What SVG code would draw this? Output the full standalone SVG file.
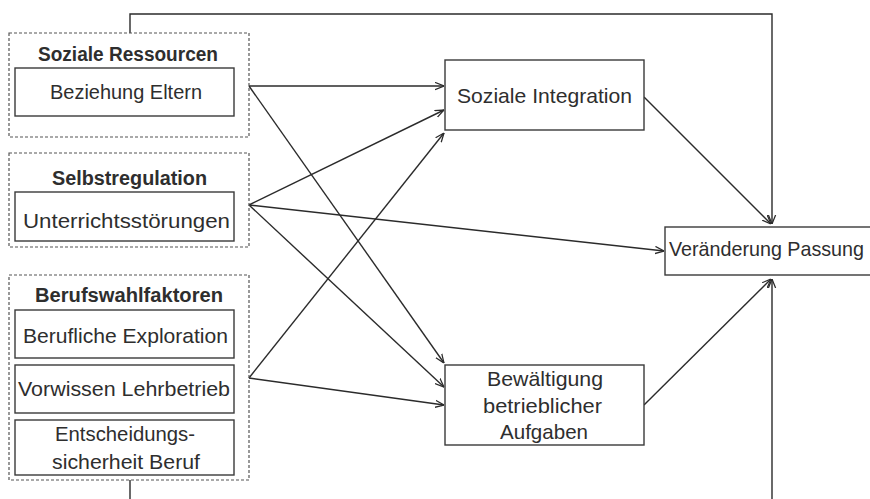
<svg xmlns="http://www.w3.org/2000/svg" width="870" height="499" viewBox="0 0 870 499">
<style>
.t{font-family:"Liberation Sans",Arial,sans-serif;font-size:21px;fill:#2e2e2e;text-anchor:middle}
.b{font-weight:bold;font-size:20px}
.box{fill:#fff;stroke:#3a3a3a;stroke-width:1.4}
.grp{fill:none;stroke:#555;stroke-width:1.2;stroke-dasharray:3,2}
.c{fill:none;stroke:#2b2b2b;stroke-width:1.4}
</style>
<defs>
<marker id="a" viewBox="0 0 10 10" refX="10" refY="5" markerWidth="9" markerHeight="9" markerUnits="userSpaceOnUse" orient="auto">
<path d="M0,1 L10,5 L0,9" fill="none" stroke="#2b2b2b" stroke-width="1.4"/>
</marker>
</defs>
<rect width="870" height="499" fill="#fff"/>
<g id="connectors">
<path class="c" d="M130,33 V14 H772 V224" marker-end="url(#a)"/>
<path class="c" d="M130,480 V520 H772 V279" marker-end="url(#a)"/>
<line class="c" x1="249" y1="86" x2="444" y2="86" marker-end="url(#a)"/>
<line class="c" x1="249" y1="86" x2="444" y2="363" marker-end="url(#a)"/>
<line class="c" x1="249" y1="205" x2="444" y2="110" marker-end="url(#a)"/>
<line class="c" x1="249" y1="205" x2="664" y2="251" marker-end="url(#a)"/>
<line class="c" x1="249" y1="205" x2="444" y2="387" marker-end="url(#a)"/>
<line class="c" x1="249" y1="378" x2="444" y2="133" marker-end="url(#a)"/>
<line class="c" x1="249" y1="378" x2="444" y2="405" marker-end="url(#a)"/>
<line class="c" x1="644" y1="97" x2="771" y2="224" marker-end="url(#a)"/>
<line class="c" x1="644" y1="405" x2="771" y2="279" marker-end="url(#a)"/>
</g>
<g id="soziale-ressourcen">
<rect class="grp" x="9" y="33" width="240" height="104"/>
<text class="t b" x="128" y="61" textLength="180" lengthAdjust="spacingAndGlyphs">Soziale Ressourcen</text>
<g id="beziehung-eltern">
<rect class="box" x="15" y="68" width="219" height="48"/>
<text class="t" x="126" y="99" textLength="152" lengthAdjust="spacingAndGlyphs">Beziehung Eltern</text>
</g>
</g>
<g id="selbstregulation">
<rect class="grp" x="9" y="153" width="240" height="94"/>
<text class="t b" x="129.5" y="185" textLength="155" lengthAdjust="spacingAndGlyphs">Selbstregulation</text>
<g id="unterrichtsstoerungen">
<rect class="box" x="15" y="192" width="219" height="49"/>
<text class="t" x="126.5" y="228" textLength="207" lengthAdjust="spacingAndGlyphs">Unterrichtsstörungen</text>
</g>
</g>
<g id="berufswahlfaktoren">
<rect class="grp" x="9" y="275" width="240" height="205"/>
<text class="t b" x="129" y="302" textLength="188" lengthAdjust="spacingAndGlyphs">Berufswahlfaktoren</text>
<g id="berufliche-exploration">
<rect class="box" x="15" y="310" width="219" height="48"/>
<text class="t" x="125.5" y="343" textLength="205" lengthAdjust="spacingAndGlyphs">Berufliche Exploration</text>
</g>
<g id="vorwissen-lehrbetrieb">
<rect class="box" x="15" y="365" width="219" height="48"/>
<text class="t" x="124" y="396" textLength="212" lengthAdjust="spacingAndGlyphs">Vorwissen Lehrbetrieb</text>
</g>
<g id="entscheidungssicherheit">
<rect class="box" x="15" y="420" width="219" height="55"/>
<text class="t" x="125" y="441" textLength="140" lengthAdjust="spacingAndGlyphs">Entscheidungs-</text>
<text class="t" x="126" y="469" textLength="148" lengthAdjust="spacingAndGlyphs">sicherheit Beruf</text>
</g>
</g>
<g id="soziale-integration">
<rect class="box" x="445" y="60" width="199" height="70"/>
<text class="t" x="544.5" y="103" textLength="175" lengthAdjust="spacingAndGlyphs">Soziale Integration</text>
</g>
<g id="bewaeltigung">
<rect class="box" x="445" y="365" width="199" height="80"/>
<text class="t" x="545" y="386" textLength="116" lengthAdjust="spacingAndGlyphs">Bewältigung</text>
<text class="t" x="542.5" y="413" textLength="119" lengthAdjust="spacingAndGlyphs">betrieblicher</text>
<text class="t" x="544" y="439" textLength="88" lengthAdjust="spacingAndGlyphs">Aufgaben</text>
</g>
<g id="veraenderung-passung">
<rect class="box" x="665" y="227" width="220" height="48"/>
<text class="t" x="669" y="256" style="text-anchor:start" textLength="195" lengthAdjust="spacingAndGlyphs">Veränderung Passung</text>
</g>
</svg>
